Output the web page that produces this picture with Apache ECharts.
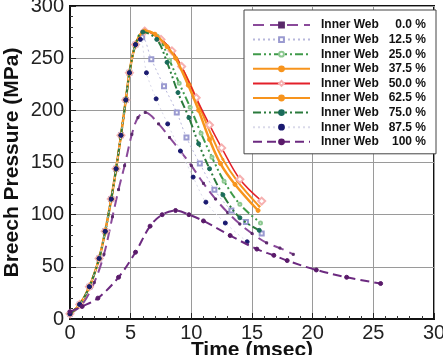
<!DOCTYPE html>
<html>
<head>
<meta charset="utf-8">
<title>Breech Pressure</title>
<script src="https://cdn.jsdelivr.net/npm/echarts@6/dist/echarts.min.js"></script>
<style>
html,body{margin:0;padding:0;background:#fff;}
#chart{width:443px;height:355px;}
</style>
</head>
<body>
<div id="chart"></div>
<script>
// time (msec), pressure (MPa)
const rise = [[0,5],[0.8,14],[1.6,31],[2.4,58],[2.9,84],[3.4,115],[3.8,144],[4.2,176],[4.6,210],[4.9,236],[5.4,263]];
const web0 = [[0,5],[1.0,14],[2.0,35],[2.8,62],[3.5,98],[4.0,124],[4.5,147],[5.1,177],[5.6,193],[6.2,198],[7.3,187],[8.2,174],[9.1,161],[10.0,147],[11.0,130],[12.0,115],[13.0,102],[14.0,91],[15.0,82],[16.2,73],[17.3,68],[18.4,62]];
const web125 = [[5.95,270],[6.7,249],[7.75,223],[8.8,198],[9.6,174],[10.7,149],[11.9,124],[13.3,104],[14.5,93],[15.8,82]];
const web25 = [[6.0,275],[7.2,271],[8.2,248],[9.0,226],[9.9,203],[10.8,178],[11.7,155],[12.7,132],[14.0,110],[15.7,92]];
const web375 = [[6.15,276],[7.0,273],[8.0,262],[8.8,250],[9.9,225],[10.8,200],[11.7,175],[12.6,153],[13.8,132],[15.6,108]];
const web50 = [[6.15,276],[7.5,268],[8.4,257],[9.2,242],[10.4,212],[11.5,186],[12.5,164],[14.0,134],[15.8,113]];
const web625 = [[6.15,276],[7.0,273],[8.0,261],[8.7,250],[9.75,224],[10.6,200],[11.5,172],[12.4,149],[13.6,129],[15.5,104]];
const web75 = [[6.0,275],[7.15,268],[8.0,246],[8.9,217],[9.8,193],[10.6,168],[11.5,144],[12.6,119],[14.0,97],[15.6,85]];
const web875 = [[5.8,268],[6.3,236],[7.1,211],[8.05,187],[9.1,161],[10.15,136],[11.2,112],[12.8,92],[14.6,74]];
const web100 = [[0,7],[1.0,12],[2.3,20],[4.0,40],[5.4,64],[6.6,89],[7.6,100],[8.7,104],[9.8,100],[11.0,94],[13.2,80],[15.4,67],[16.8,61],[17.9,56],[20.3,47],[22.8,40],[25.6,34]];

const names = ['0.0 %','12.5 %','25.0 %','37.5 %','50.0 %','62.5 %','75.0 %','87.5 %','100 %'];
const xTicks = [0,5,10,15,20,25,30];
const yTicks = [0,50,100,150,200,250,300];

const font = 'Liberation Sans, Arial, sans-serif';

// look of each curve, same order as names
const looks = [
    {data: web0, color:'#8a4a9a', type:[11,6], width:2, symbol:'rect', size:2, mColor:'#5a2a6a'},
    {data: rise.concat(web125), color:'#b8b8dc', type:[2,3], width:1, symbol:'emptyRect', size:4, mColor:'#9a9ad0'},
    {data: rise.concat(web25), color:'#3f9a4a', type:[8,3,2,3,2,3], width:2, symbol:'emptyCircle', size:3, mColor:'#8cc890'},
    {data: rise.concat(web375), color:'#f7941d', type:'solid', width:2, symbol:'circle', size:2, mColor:'#f7941d'},
    {data: rise.concat(web50), color:'#e3202a', type:'solid', width:1.5, symbol:'emptyDiamond', size:7, mColor:'#f6b0b0'},
    {data: rise.concat(web625), color:'#f7941d', type:'solid', width:2.5, symbol:'circle', size:4, mColor:'#f7941d'},
    {data: rise.concat(web75), color:'#2a7a3c', type:[8,3,2,3,2,3], width:2, symbol:'circle', size:4, mColor:'#1a6b5a'},
    {data: rise.concat(web875), color:'#dadaea', type:[2,3], width:1, symbol:'circle', size:4, mColor:'#1a1a70'},
    {data: web100, color:'#6c2a80', type:[9,5], width:2, symbol:'circle', size:4, mColor:'#5a1a6a'}
];

const series = looks.map((s,i)=>({
    name: 'Inner Web ' + names[i],
    type: 'line',
    data: s.data,
    smooth: 0.35,
    symbol: s.symbol,
    symbolSize: s.size,
    showAllSymbol: true,
    lineStyle: {color: s.color, type: s.type, width: s.width},
    itemStyle: {color: s.mColor, borderColor: s.mColor, borderWidth: 1},
    emphasis: {disabled: true},
    z: 3 + i
}));

const chart = echarts.init(document.getElementById('chart'), null, {renderer:'canvas'});
chart.setOption({
    animation: false,
    backgroundColor: '#fff',
    textStyle: {fontFamily: font},
    grid: {left:70, right:9, top:6, bottom:36, containLabel:false, outerBoundsMode:'none',
        show:true, borderColor:'#111', borderWidth:2, backgroundColor:'transparent'},
    legend: {
        orient: 'vertical',
        left: 244, top: 10,
        padding: [9,10,6,8],
        itemWidth: 57, itemHeight: 6, itemGap: 2.6,
        backgroundColor: '#fff',
        borderColor: '#444', borderWidth: 1,
        data: series.map(s=>s.name),
        formatter: n => '{a|Inner Web}{b|' + n.replace('Inner Web ','') + '}',
        textStyle: {
            fontFamily: font, fontWeight: 'bold', fontSize: 12, color: '#111',
            rich: {
                a: {width: 60, padding:[0,0,0,6], fontFamily: font, fontWeight:'bold', fontSize:12, lineHeight:12, color:'#111'},
                b: {width: 45, align:'right', fontFamily: font, fontWeight:'bold', fontSize:12, lineHeight:12, color:'#111'}
            }
        }
    },
    xAxis: {
        type: 'value', min: xTicks[0], max: xTicks[xTicks.length-1], interval: 5,
        name: 'Time (msec)', nameLocation: 'middle', nameGap: 21, nameMoveOverlap: false,
        nameTextStyle: {fontFamily: font, fontWeight:'bold', fontSize:21, color:'#111'},
        axisLine: {show:true, lineStyle:{color:'#111', width:2}},
        axisTick: {show:true, inside:true, length:6, lineStyle:{color:'#222'}},
        minorTick: {show:true, splitNumber:5, length:3, lineStyle:{color:'#333'}},
        axisLabel: {fontFamily: font, fontSize:20, color:'#222', margin:4},
        splitLine: {show:true, lineStyle:{color:'#9a9a9a', width:1}}
    },
    yAxis: {
        type: 'value', min: yTicks[0], max: yTicks[yTicks.length-1], interval: 50,
        name: 'Breech Pressure (MPa)', nameLocation: 'middle', nameGap: 47, nameMoveOverlap: false,
        nameTextStyle: {fontFamily: font, fontWeight:'bold', fontSize:21, color:'#111'},
        axisLine: {show:true, lineStyle:{color:'#111', width:2}},
        axisTick: {show:true, inside:true, length:6, lineStyle:{color:'#222'}},
        minorTick: {show:true, splitNumber:5, length:3, lineStyle:{color:'#333'}},
        axisLabel: {fontFamily: font, fontSize:20, color:'#222', margin:6},
        splitLine: {show:true, lineStyle:{color:'#9a9a9a', width:1}}
    },
    series: series
});
window.addEventListener('resize',()=>chart.resize());
</script>
</body>
</html>
